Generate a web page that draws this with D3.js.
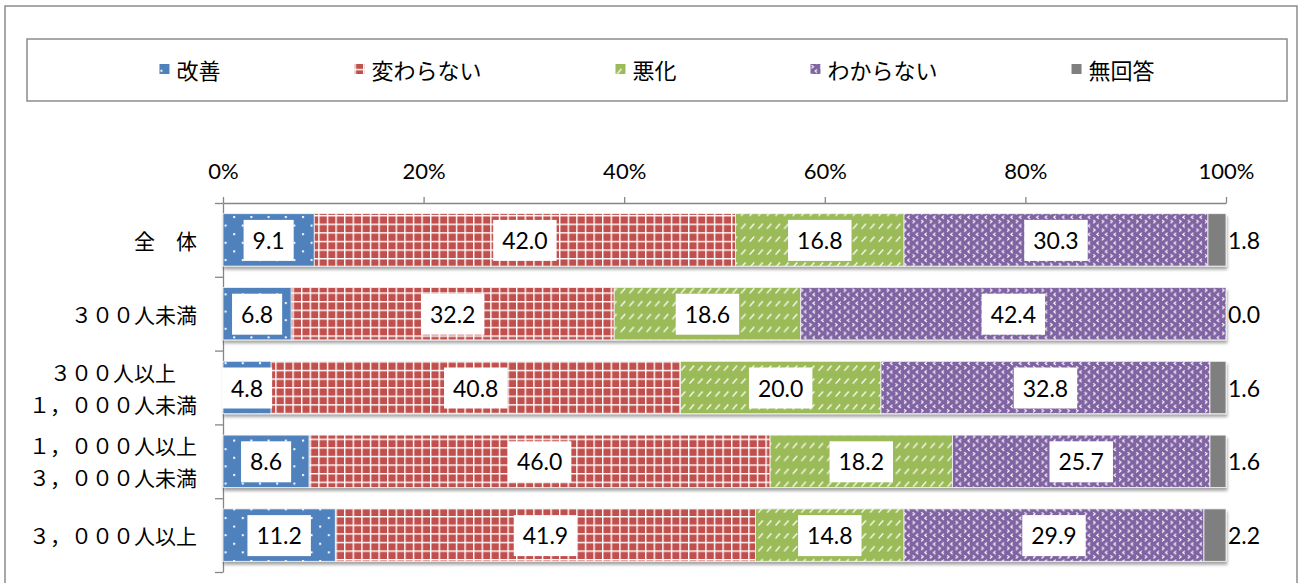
<!DOCTYPE html>
<html>
<head>
<meta charset="utf-8">
<script src="https://cdn.jsdelivr.net/npm/d3@7"></script>
<style>
  body { margin: 0; background: #fff; }
  svg { display: block; }
</style>
</head>
<body>
<svg id="chart" width="1300" height="583"></svg>
<script>
// Company-size groups (multi-line labels are split into lines)
const categories = [
  ["全　体"],
  ["３００人未満"],
  ["３００人以上", "１，０００人未満"],
  ["１，０００人以上", "３，０００人未満"],
  ["３，０００人以上"]
];
const seriesNames = ["改善", "変わらない", "悪化", "わからない", "無回答"];
const improved  = [9.1, 6.8, 4.8, 8.6, 11.2];
const unchanged = [42.0, 32.2, 40.8, 46.0, 41.9];
const worsened  = [16.8, 18.6, 20.0, 18.2, 14.8];
const unknown   = [30.3, 42.4, 32.8, 25.7, 29.9];
const noAnswer  = [1.8, 0.0, 1.6, 1.6, 2.2];
const tickValues = [0, 20, 40, 60, 80, 100];

const seriesValues = [improved, unchanged, worsened, unknown, noAnswer];
const rows = categories.map((c, i) => {
  const r = { idx: i };
  seriesNames.forEach((s, j) => r[s] = seriesValues[j][i]);
  return r;
});

const svg = d3.select("#chart");
const plot = { left: 223, right: 1226, top: 203, bottom: 572 };

const latin = "Lato, 'Open Sans', sans-serif";
const cjk = "'Noto Sans CJK JP', sans-serif";

// ---- fill patterns ----
const defs = svg.append("defs");
const s = 8.6;
function pattern(id, w, h, bg, draw) {
  const p = defs.append("pattern").attr("id", id)
    .attr("patternUnits", "userSpaceOnUse").attr("width", w).attr("height", h);
  p.append("rect").attr("width", w).attr("height", h).attr("fill", bg);
  draw(p);
}
pattern("pImproved", 2 * s, 2 * s, "#4F81BD", p => {
  p.append("rect").attr("x", 1).attr("y", 1).attr("width", 2).attr("height", 2).attr("fill", "#fff");
  p.append("rect").attr("x", 1 + s).attr("y", 1 + s).attr("width", 2).attr("height", 2).attr("fill", "#fff");
});
pattern("pUnchanged", s, s, "#C0504D", p => {
  p.append("rect").attr("x", 0).attr("y", 0).attr("width", s).attr("height", 1.4).attr("fill", "#fff");
  p.append("rect").attr("x", 0).attr("y", 0).attr("width", 1.4).attr("height", s).attr("fill", "#fff");
});
pattern("pWorsened", s, 1.5 * s, "#9BBB59", p => {
  p.append("path").attr("d", "M1.5,9.5 L6,4.5").attr("stroke", "#fff").attr("stroke-width", 1.3).attr("fill", "none");
});
pattern("pUnknown", s, s, "#8064A2", p => {
  p.append("path").attr("d", "M6.6,0.6 L4.6,2.2 L6.6,3.8").attr("stroke", "#fff").attr("stroke-width", 1.1).attr("fill", "none");
  p.append("path").attr("d", "M1,4.9 L3,6.5 L1,8.1").attr("stroke", "#fff").attr("stroke-width", 1.1).attr("fill", "none");
});
const fills = ["url(#pImproved)", "url(#pUnchanged)", "url(#pWorsened)", "url(#pUnknown)", "#7F7F7F"];

const shadow = defs.append("filter").attr("id", "barShadow")
  .attr("x", "-5%").attr("y", "-20%").attr("width", "110%").attr("height", "160%");
shadow.append("feDropShadow").attr("dx", 1).attr("dy", 3).attr("stdDeviation", 1.8)
  .attr("flood-color", "#000").attr("flood-opacity", 0.35);

// ---- frames ----
svg.append("rect").attr("x", 5).attr("y", 6).attr("width", 1292).attr("height", 620)
  .attr("fill", "none").attr("stroke", "#8c8c8c").attr("stroke-width", 1.5);
svg.append("rect").attr("x", 27).attr("y", 39).attr("width", 1260).attr("height", 62)
  .attr("fill", "none").attr("stroke", "#8c8c8c").attr("stroke-width", 1.5);

// ---- scales ----
const x = d3.scaleLinear().domain([0, 1]).range([plot.left, plot.right]);
const y = d3.scaleBand().domain(rows.map(r => r.idx)).range([plot.top, plot.bottom])
  .paddingInner(0.29).paddingOuter(0.145);

const stack = d3.stack().keys(seriesNames).offset(d3.stackOffsetExpand);
const stacked = stack(rows);

// ---- axes ----
const xAxis = svg.append("g").attr("transform", `translate(0,${plot.top})`)
  .call(d3.axisTop(x).tickValues(tickValues.map(v => v / 100))
    .tickFormat(d => Math.round(d * 100) + "%").tickSize(6).tickSizeOuter(0).tickPadding(18));
xAxis.selectAll("path,line").attr("stroke", "#868686").attr("stroke-width", 1.3);
xAxis.selectAll("text").attr("font-family", latin).attr("font-size", 22).attr("fill", "#000");

const yb = d3.scaleLinear().domain([0, categories.length]).range([plot.top, plot.bottom]);
const yAxis = svg.append("g").attr("transform", `translate(${plot.left},0)`)
  .call(d3.axisLeft(yb).ticks(categories.length).tickFormat("").tickSize(8).tickSizeOuter(0));
yAxis.selectAll("path,line").attr("stroke", "#868686").attr("stroke-width", 1.3);

// ---- category labels (lines centered within a right-aligned block) ----
const catG = svg.append("g");
categories.forEach((lines, i) => {
  const cy = y(i) + y.bandwidth() / 2;
  const lh = 32;
  const g = catG.append("g");
  const texts = lines.map((ln, k) => g.append("text")
    .attr("y", cy + (k - (lines.length - 1) / 2) * lh)
    .attr("dominant-baseline", "central")
    .attr("font-family", cjk).attr("font-size", 21).attr("fill", "#000").text(ln));
  const bw = d3.max(texts, t => t.node().getComputedTextLength());
  const right = 197;
  texts.forEach(t => t.attr("x", right - bw / 2).attr("text-anchor", "middle"));
});

// ---- bars ----
const barG = svg.append("g");
rows.forEach((r, i) => {
  const rg = barG.append("g").attr("filter", "url(#barShadow)");
  stacked.forEach((ser, j) => {
    const d = ser[i];
    const w = x(d[1]) - x(d[0]);
    if (w <= 0) return;
    rg.append("rect")
      .attr("x", x(d[0])).attr("y", y(i))
      .attr("width", w).attr("height", y.bandwidth())
      .attr("fill", fills[j]).attr("stroke", "#f4f4f4").attr("stroke-width", 0.8);
  });
});

// ---- value labels ----
const labG = svg.append("g");
rows.forEach((r, i) => {
  const cy = y(i) + y.bandwidth() / 2;
  stacked.forEach((ser, j) => {
    const d = ser[i];
    const txt = seriesValues[j][i].toFixed(1);
    if (j < 4) {
      const cx = (x(d[0]) + x(d[1])) / 2;
      const g = labG.append("g");
      const rect = g.append("rect").attr("fill", "#fff");
      const t = g.append("text").attr("x", cx).attr("y", cy)
        .attr("text-anchor", "middle").attr("dominant-baseline", "central")
        .attr("font-family", latin).attr("font-size", 23).attr("fill", "#000").text(txt);
      const tw = t.node().getComputedTextLength();
      rect.attr("x", cx - tw / 2 - 9).attr("y", cy - 20).attr("width", tw + 18).attr("height", 41);
    } else {
      labG.append("text").attr("x", x(1) + 2).attr("y", cy)
        .attr("dominant-baseline", "central")
        .attr("font-family", latin).attr("font-size", 23).attr("fill", "#000").text(txt);
    }
  });
});

// ---- legend: equal gaps between entries, centered in the box ----
const legG = svg.append("g");
const markerSize = 10, markerGap = 7, entryGap = 134, legCy = 69;
const items = seriesNames.map((name, j) => {
  const g = legG.append("g");
  g.append("rect").attr("width", markerSize).attr("height", markerSize)
    .attr("y", legCy - markerSize / 2).attr("fill", fills[j]);
  const t = g.append("text").attr("x", markerSize + markerGap).attr("y", legCy)
    .attr("dominant-baseline", "central")
    .attr("font-family", cjk).attr("font-size", 22).attr("fill", "#000").text(name);
  return { g, w: markerSize + markerGap + t.node().getComputedTextLength() };
});
const total = d3.sum(items, d => d.w) + entryGap * (items.length - 1);
let cx0 = 657 - total / 2;
items.forEach(it => { it.g.attr("transform", `translate(${cx0},0)`); cx0 += it.w + entryGap; });
</script>
</body>
</html>
